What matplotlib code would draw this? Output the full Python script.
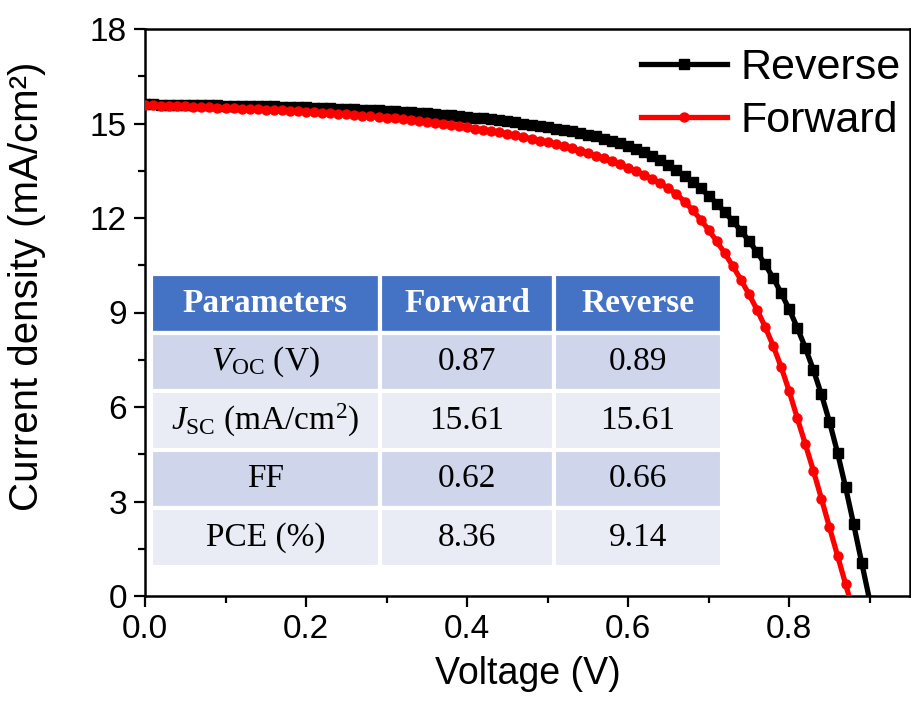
import matplotlib
matplotlib.use("Agg")
import matplotlib.pyplot as plt
from matplotlib.ticker import MultipleLocator

plt.rcParams['font.family'] = ['Liberation Sans', 'DejaVu Sans']
plt.rcParams['mathtext.fontset'] = 'custom'
plt.rcParams['mathtext.rm'] = 'Liberation Serif'
plt.rcParams['mathtext.it'] = 'Liberation Serif:italic'
plt.rcParams['mathtext.bf'] = 'Liberation Serif:bold'

# ---------------- data ----------------
V_rev = [0.00, 0.01, 0.02, 0.03, 0.04, 0.05, 0.06, 0.07, 0.08, 0.09,
         0.10, 0.11, 0.12, 0.13, 0.14, 0.15, 0.16, 0.17, 0.18, 0.19,
         0.20, 0.21, 0.22, 0.23, 0.24, 0.25, 0.26, 0.27, 0.28, 0.29,
         0.30, 0.31, 0.32, 0.33, 0.34, 0.35, 0.36, 0.37, 0.38, 0.39,
         0.40, 0.41, 0.42, 0.43, 0.44, 0.45, 0.46, 0.47, 0.48, 0.49,
         0.50, 0.51, 0.52, 0.53, 0.54, 0.55, 0.56, 0.57, 0.58, 0.59,
         0.60, 0.61, 0.62, 0.63, 0.64, 0.65, 0.66, 0.67, 0.68, 0.69,
         0.70, 0.71, 0.72, 0.73, 0.74, 0.75, 0.76, 0.77, 0.78, 0.79,
         0.80, 0.81, 0.82, 0.83, 0.84, 0.85, 0.86, 0.87, 0.88, 0.89,
         0.90]
J_rev = [15.61, 15.61, 15.60, 15.60, 15.60, 15.59, 15.59, 15.59, 15.58, 15.58,
         15.57, 15.57, 15.56, 15.56, 15.55, 15.55, 15.54, 15.53, 15.53, 15.52,
         15.51, 15.50, 15.49, 15.48, 15.47, 15.46, 15.45, 15.44, 15.43, 15.42,
         15.40, 15.39, 15.37, 15.36, 15.34, 15.32, 15.30, 15.28, 15.26, 15.24,
         15.21, 15.19, 15.16, 15.13, 15.10, 15.07, 15.04, 15.00, 14.96, 14.92,
         14.88, 14.84, 14.80, 14.75, 14.70, 14.65, 14.59, 14.52, 14.45, 14.37,
         14.28, 14.19, 14.08, 13.96, 13.83, 13.68, 13.52, 13.34, 13.15, 12.94,
         12.71, 12.46, 12.19, 11.90, 11.60, 11.27, 10.92, 10.53, 10.10, 9.62,
         9.10, 8.52, 7.88, 7.18, 6.40, 5.53, 4.55, 3.45, 2.28, 1.06,
         -0.15]

V_fwd = [0.00, 0.01, 0.02, 0.03, 0.04, 0.05, 0.06, 0.07, 0.08, 0.09,
         0.10, 0.11, 0.12, 0.13, 0.14, 0.15, 0.16, 0.17, 0.18, 0.19,
         0.20, 0.21, 0.22, 0.23, 0.24, 0.25, 0.26, 0.27, 0.28, 0.29,
         0.30, 0.31, 0.32, 0.33, 0.34, 0.35, 0.36, 0.37, 0.38, 0.39,
         0.40, 0.41, 0.42, 0.43, 0.44, 0.45, 0.46, 0.47, 0.48, 0.49,
         0.50, 0.51, 0.52, 0.53, 0.54, 0.55, 0.56, 0.57, 0.58, 0.59,
         0.60, 0.61, 0.62, 0.63, 0.64, 0.65, 0.66, 0.67, 0.68, 0.69,
         0.70, 0.71, 0.72, 0.73, 0.74, 0.75, 0.76, 0.77, 0.78, 0.79,
         0.80, 0.81, 0.82, 0.83, 0.84, 0.85, 0.86, 0.87, 0.88]
J_fwd = [15.59, 15.58, 15.57, 15.56, 15.55, 15.54, 15.53, 15.52, 15.51, 15.50,
         15.49, 15.48, 15.47, 15.46, 15.45, 15.44, 15.43, 15.42, 15.40, 15.39,
         15.37, 15.36, 15.34, 15.32, 15.31, 15.29, 15.27, 15.25, 15.23, 15.21,
         15.19, 15.16, 15.14, 15.11, 15.08, 15.06, 15.03, 15.00, 14.96, 14.92,
         14.88, 14.84, 14.80, 14.76, 14.72, 14.67, 14.62, 14.57, 14.52, 14.46,
         14.40, 14.34, 14.28, 14.21, 14.14, 14.06, 13.98, 13.89, 13.80, 13.70,
         13.60, 13.49, 13.37, 13.24, 13.10, 12.94, 12.76, 12.52, 12.25, 11.95,
         11.62, 11.26, 10.88, 10.47, 10.04, 9.58, 9.09, 8.55, 7.95, 7.27,
         6.50, 5.65, 4.82, 3.98, 3.09, 2.18, 1.28, 0.38, -0.52]

series_labels = ["Reverse", "Forward"]
x_ticks = [0.0, 0.2, 0.4, 0.6, 0.8]
y_ticks = [0, 3, 6, 9, 12, 15, 18]

table_header = ["Parameters", "Forward", "Reverse"]
param_names = [r"$V_{\mathrm{OC}}$ (V)", r"$J_{\mathrm{SC}}$ (mA/cm$^{2}$)", "FF", "PCE (%)"]
forward_vals = ["0.87", "15.61", "0.62", "8.36"]
reverse_vals = ["0.89", "15.61", "0.66", "9.14"]

# ---------------- figure ----------------
fig = plt.figure(figsize=(9.12, 7.11), dpi=100)
ax = fig.add_axes([145/912, 1 - 596/711, (910-145)/912, (596-29)/711])

ax.plot(V_rev, J_rev, color='black', lw=3.8, marker='s', ms=6.5,
        label=series_labels[0], zorder=3)
ax.plot(V_fwd, J_fwd, color='#ff0000', lw=3.8, marker='o', ms=6.5,
        label=series_labels[1], zorder=4)

ax.set_xlim(0, 0.95)
ax.set_ylim(0, 18)
ax.set_xticks(x_ticks)
ax.set_xticklabels([f"{t:.1f}" for t in x_ticks])
ax.set_yticks(y_ticks)
ax.xaxis.set_minor_locator(MultipleLocator(0.1))
ax.yaxis.set_minor_locator(MultipleLocator(1.5))
ax.tick_params(which='major', direction='out', length=8, width=1.6,
               labelsize=24, pad=5)
ax.tick_params(which='minor', direction='out', length=5, width=1.6)
for sp in ax.spines.values():
    sp.set_linewidth(1.8)

ax.set_xlabel("Voltage (V)", fontsize=27, labelpad=8)
ax.set_ylabel("Current density (mA/cm²)", fontsize=29)
ax.yaxis.set_label_coords(-0.13, 0.547)

leg = ax.legend(loc='upper right', bbox_to_anchor=(1.013, 1.0), frameon=False,
                fontsize=31, handlelength=2.0, handletextpad=0.3,
                labelspacing=0.3, borderaxespad=0.05)

# ---------------- inset table ----------------
cell_text = [table_header] + [[p, f, r] for p, f, r in zip(param_names, forward_vals, reverse_vals)]
x0 = (151 - 145) / 765
x1 = (722 - 145) / 765
y_top = (596 - 274) / 567
y_bot = (596 - 567) / 567
tbl = ax.table(cellText=cell_text, colWidths=[0.401, 0.305, 0.294],
               cellLoc='center', bbox=[x0, y_bot, x1 - x0, y_top - y_bot])
tbl.auto_set_font_size(False)
row_colors = ['#4472C4', '#CFD5EA', '#E9EBF5', '#CFD5EA', '#E9EBF5']
for (r, c), cell in tbl.get_celld().items():
    cell.set_facecolor(row_colors[r])
    cell.set_edgecolor('white')
    cell.set_linewidth(3)
    t = cell.get_text()
    t.set_fontfamily('Liberation Serif')
    t.set_fontsize(24)
    if r == 0:
        t.set_color('white')
        t.set_fontweight('bold')
    else:
        t.set_color('black')
tbl.set_zorder(5)

fig.savefig("out.png", dpi=100)
